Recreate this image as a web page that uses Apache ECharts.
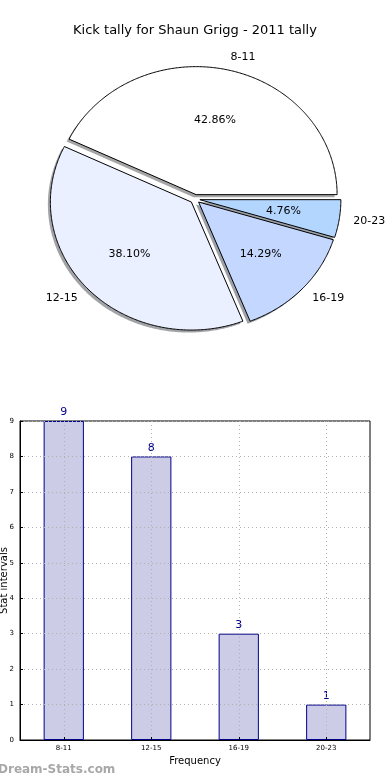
<!DOCTYPE html>
<html>
<head>
<meta charset="utf-8">
<script src="https://cdn.jsdelivr.net/npm/echarts@6/dist/echarts.min.js"></script>
<style>
html,body{margin:0;padding:0;background:#fff;}
#c{width:390px;height:780px;}
</style>
</head>
<body>
<div id="c"></div>
<script>
const categories = ['8-11', '12-15', '16-19', '20-23'];
const counts = [9, 8, 3, 1];
const pieColors = ['#ffffff', '#eaf0ff', '#c4d8ff', '#b3d6ff'];
const yTicks = [0, 1, 2, 3, 4, 5, 6, 7, 8, 9];

const FONT = 'DejaVu Sans';
const total = counts.reduce((a, b) => a + b, 0);
// pie layout (matplotlib-like, non-equal aspect -> elliptical)
const CX = 195, CY = 199, RX = 141, RY = 128;
const EXPLODE = 0.035, SHADOW_DX = -2.5, SHADOW_DY = 2.5;

function shade(hex) {
  const n = parseInt(hex.slice(1), 16);
  const r = Math.round(((n >> 16) & 255) * 0.3), g = Math.round(((n >> 8) & 255) * 0.3), b = Math.round((n & 255) * 0.3);
  return 'rgba(' + r + ',' + g + ',' + b + ',0.5)';
}

function renderWedge(params, api) {
  const i = api.value(1);
  let before = 0;
  for (let k = 0; k < i; k++) before += counts[k];
  const v = api.value(0);
  const a0 = before / total * 2 * Math.PI;
  const a1 = (before + v) / total * 2 * Math.PI;
  const mid = (a0 + a1) / 2;
  const ox = CX + EXPLODE * RX * Math.cos(mid);
  const oy = CY - EXPLODE * RY * Math.sin(mid);
  const pts = [[ox, oy]];
  const steps = Math.max(8, Math.ceil((a1 - a0) / 0.01));
  for (let s = 0; s <= steps; s++) {
    const t = a0 + (a1 - a0) * s / steps;
    pts.push([ox + RX * Math.cos(t), oy - RY * Math.sin(t)]);
  }
  const shadowPts = pts.map(p => [p[0] + SHADOW_DX, p[1] + SHADOW_DY]);
  const cosm = Math.cos(mid), sinm = Math.sin(mid);
  return {
    type: 'group',
    children: [
      { type: 'polygon', z2: 0, shape: { points: shadowPts }, style: { fill: shade(pieColors[i]), stroke: null } },
      { type: 'polygon', z2: 10, shape: { points: pts }, style: { fill: pieColors[i], stroke: '#000', lineWidth: 1, lineJoin: 'round' } },
      { type: 'text', z2: 20, x: ox + 0.6 * RX * cosm, y: oy - 0.6 * RY * sinm,
        style: { text: (v / total * 100).toFixed(2) + '%', font: '11px "' + FONT + '"', fill: '#000', align: 'center', verticalAlign: 'middle' } },
      { type: 'text', z2: 20, x: ox + 1.1 * RX * cosm, y: oy - 1.1 * RY * sinm,
        style: { text: categories[i], font: '11px "' + FONT + '"', fill: '#000', align: cosm >= 0 ? 'left' : 'right', verticalAlign: 'middle' } }
    ]
  };
}

const chart = echarts.init(document.getElementById('c'), null, { renderer: 'canvas' });
chart.setOption({
  animation: false,
  backgroundColor: '#ffffff',
  title: {
    text: 'Kick tally for Shaun Grigg - 2011 tally',
    left: 'center',
    top: 19,
    textStyle: { fontFamily: FONT, fontSize: 13, fontWeight: 'normal', color: '#000' }
  },
  graphic: [{
    type: 'text',
    left: -2,
    top: 764,
    style: { text: 'Dream-Stats.com', fontFamily: FONT, fontSize: 12, fontWeight: 'bold', fill: '#a8a8a8' }
  }],
  grid: {
    left: 20, right: 20, top: 421, bottom: 40,
    containLabel: false,
    outerBoundsMode: 'none',
    show: true, borderColor: '#000', borderWidth: 1, backgroundColor: 'transparent'
  },
  xAxis: {
    type: 'category',
    data: categories,
    z: 5,
    name: 'Frequency',
    nameLocation: 'middle',
    nameGap: 16,
    nameMoveOverlap: false,
    nameTextStyle: { fontFamily: FONT, fontSize: 10, color: '#000' },
    axisLine: { show: true, lineStyle: { color: '#000' } },
    axisTick: { show: true, alignWithLabel: true, inside: true, length: 3, lineStyle: { color: '#000' } },
    axisLabel: { fontFamily: FONT, fontSize: 7, color: '#000', margin: 5 },
    splitLine: { show: true, alignWithLabel: true, lineStyle: { color: '#b0b0b0', type: [1, 3], width: 1 } }
  },
  yAxis: {
    type: 'value',
    min: 0, max: 9, interval: 1,
    z: 5,
    name: 'Stat intervals',
    nameLocation: 'middle',
    nameGap: 11,
    nameMoveOverlap: false,
    nameTextStyle: { fontFamily: FONT, fontSize: 10, color: '#000' },
    axisLine: { show: true, lineStyle: { color: '#000' } },
    axisTick: { show: true, inside: true, length: 3, lineStyle: { color: '#000' } },
    axisLabel: { fontFamily: FONT, fontSize: 7, color: '#000', margin: 6,
      formatter: v => yTicks.includes(v) ? String(v) : '' },
    splitLine: { show: true, lineStyle: { color: '#b0b0b0', type: [1, 3], width: 1 } }
  },
  series: [
    {
      type: 'custom',
      coordinateSystem: 'none',
      silent: true,
      renderItem: renderWedge,
      data: counts.map((v, i) => [v, i])
    },
    {
      type: 'bar',
      data: counts,
      barWidth: '46%',
      z: 2,
      itemStyle: { color: '#cccce6', borderColor: '#00008b', borderWidth: 1 },
      label: { show: true, position: 'top', distance: 3, fontFamily: FONT, fontSize: 11, color: '#00008b' }
    }
  ]
});
</script>
</body>
</html>
